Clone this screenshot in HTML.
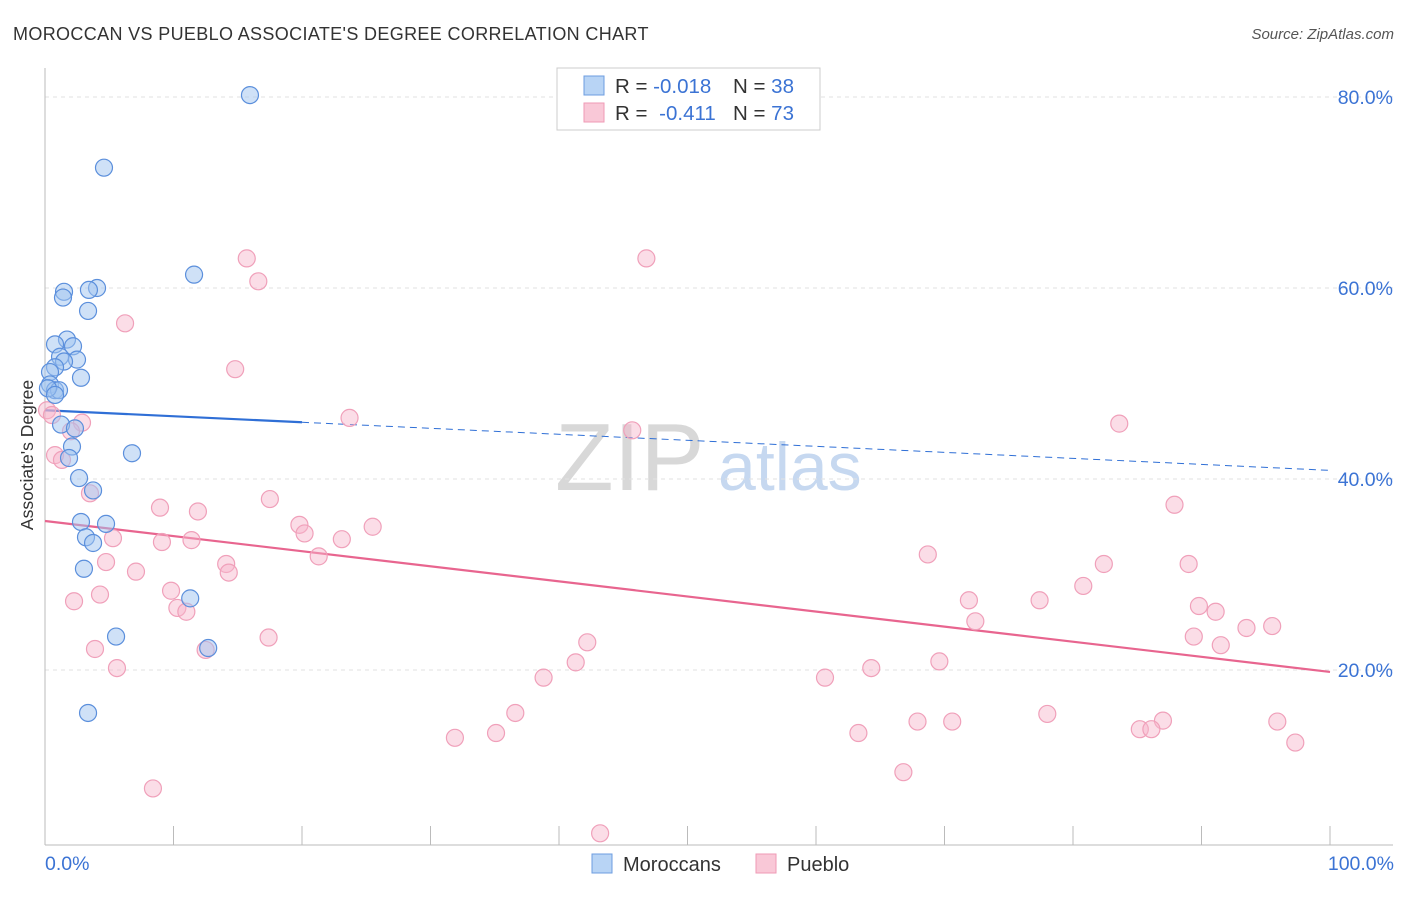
<!DOCTYPE html>
<html><head><meta charset="utf-8"><style>
body{margin:0;background:#fff;font-family:"Liberation Sans",sans-serif}
svg text{font-family:"Liberation Sans",sans-serif}
</style></head><body>
<svg id="c" width="1406" height="892" xmlns="http://www.w3.org/2000/svg">
<text x="13" y="40" font-size="18" fill="#333" letter-spacing="0.35">MOROCCAN VS PUEBLO ASSOCIATE'S DEGREE CORRELATION CHART</text>
<text x="1394" y="39" font-size="15" fill="#555" font-style="italic" text-anchor="end">Source: ZipAtlas.com</text>
<text x="555" y="490" font-size="96" fill="#d8d8d8" font-family="Liberation Serif">ZIP</text>
<text x="718" y="490" font-size="68" fill="#c6d8f0">atlas</text>
<text transform="translate(33,455) rotate(-90)" font-size="17.5" fill="#333" text-anchor="middle">Associate's Degree</text>
<g id="grid"></g><g id="axes"></g><g id="trend"></g><g id="pts"></g>
<g>
<rect x="557" y="68" width="263" height="62" fill="#fff" stroke="#ccc"/>
<rect x="584" y="76" width="20" height="19" fill="#b8d4f5" stroke="#6d9de0"/>
<rect x="584" y="103" width="20" height="19" fill="#f9c8d7" stroke="#ef9ab5"/>
<text x="615" y="93" font-size="20.5" fill="#333">R = <tspan fill="#3b73d4">-0.018</tspan></text>
<text x="733" y="93" font-size="20.5" fill="#333">N = <tspan fill="#3b73d4">38</tspan></text>
<text x="615" y="120" font-size="20.5" fill="#333">R = <tspan fill="#3b73d4" dx="6">-0.411</tspan></text>
<text x="733" y="120" font-size="20.5" fill="#333">N = <tspan fill="#3b73d4">73</tspan></text>
</g>
<g>
<rect x="592" y="854" width="20" height="19" fill="#b8d4f5" stroke="#6d9de0"/>
<text x="623" y="871" font-size="20" fill="#333">Moroccans</text>
<rect x="756" y="854" width="20" height="19" fill="#f9c8d7" stroke="#ef9ab5"/>
<text x="787" y="871" font-size="20" fill="#333">Pueblo</text>
</g>
<text x="45" y="870" font-size="19.5" fill="#3b73d4">0.0%</text>
<text x="1394" y="870" font-size="19.5" fill="#3b73d4" text-anchor="end">100.0%</text>
</svg>
<script>
const yTicks=[20,40,60,80];
const yTickLabels=["20.0%","40.0%","60.0%","80.0%"];
const moroccanX=[15.95,4.59,11.6,1.48,1.40,4.05,3.42,3.35,1.71,0.78,2.18,1.17,2.49,1.48,0.78,0.39,2.80,0.39,0.78,1.09,0.23,0.78,1.25,2.33,2.10,6.77,1.87,2.65,3.74,2.80,4.75,3.19,3.74,3.03,11.3,5.53,12.7,3.35];
const moroccanY=[80.2,72.6,61.4,59.6,59.0,60.0,59.8,57.6,54.6,54.1,53.9,52.8,52.5,52.3,51.7,51.2,50.6,49.9,49.3,49.3,49.5,48.8,45.7,45.3,43.4,42.7,42.2,40.1,38.8,35.5,35.3,33.9,33.3,30.6,27.5,23.5,22.3,15.5];
const puebloX=[46.8,15.7,16.6,6.23,14.8,23.7,45.7,83.6,0.16,0.54,2.88,2.02,0.78,1.32,3.50,8.95,11.9,17.5,87.9,19.8,20.2,23.1,25.5,9.1,11.4,5.29,4.75,21.3,7.08,14.1,14.3,68.7,82.4,89.0,80.8,9.81,2.26,4.28,10.3,11.0,71.9,77.4,89.8,91.1,72.4,93.5,95.5,89.4,91.5,17.4,42.2,3.89,12.5,5.60,41.3,69.6,64.3,38.8,60.7,36.6,78.0,67.9,70.6,95.9,35.1,63.3,87.0,85.2,86.1,31.9,97.3,66.8,8.40,43.2];
const puebloY=[63.1,63.1,60.7,56.3,51.5,46.4,45.1,45.8,47.2,46.7,45.9,45.0,42.5,42.0,38.5,37.0,36.6,37.9,37.3,35.2,34.3,33.7,35.0,33.4,33.6,33.8,31.3,31.9,30.3,31.1,30.2,32.1,31.1,31.1,28.8,28.3,27.2,27.9,26.5,26.1,27.3,27.3,26.7,26.1,25.1,24.4,24.6,23.5,22.6,23.4,22.9,22.2,22.1,20.2,20.8,20.9,20.2,19.2,19.2,15.5,15.4,14.6,14.6,14.6,13.4,13.4,14.7,13.8,13.8,12.9,12.4,9.3,7.6,2.9];
const moroccanTrend=[47.2,40.9];
const puebloTrend=[35.6,19.8];
const NS="http://www.w3.org/2000/svg";
const X=v=>45+v*12.85, Y=v=>861-v*9.55;
function mk(t,a,p){const e=document.createElementNS(NS,t);for(const k in a)e.setAttribute(k,a[k]);document.getElementById(p).appendChild(e);return e;}
yTicks.forEach((t,i)=>{
 const l=mk('line',{x1:45,x2:1393,y1:Y(t),y2:Y(t),stroke:'#e2e2e2','stroke-dasharray':'4,4'},'grid');
 
 
 const tx=mk('text',{x:1393,y:Y(t)+7,'font-size':19.5,fill:'#3b73d4','text-anchor':'end'},'grid');
 tx.textContent=yTickLabels[i];
 
 
});
let a=mk('line',{x1:45,x2:45,y1:68,y2:845,stroke:'#bbb'},'axes');


a=mk('line',{x1:45,x2:1393,y1:845,y2:845,stroke:'#bbb'},'axes');


for(let i=0;i<=10;i++){const t=mk('line',{x1:X(i*10),x2:X(i*10),y1:826,y2:845,stroke:'#bbb'},'axes');
 
 }
let s=mk('line',{x1:X(0),y1:Y(moroccanTrend[0]),x2:X(20),y2:Y(moroccanTrend[0]+(moroccanTrend[1]-moroccanTrend[0])*0.2),stroke:'#2f6fd6','stroke-width':2.2},'trend');


s=mk('line',{x1:X(20),y1:Y(moroccanTrend[0]+(moroccanTrend[1]-moroccanTrend[0])*0.2),x2:X(100),y2:Y(moroccanTrend[1]),stroke:'#2f6fd6','stroke-width':1,'stroke-dasharray':'7,5'},'trend');


s=mk('line',{x1:X(0),y1:Y(puebloTrend[0]),x2:X(100),y2:Y(puebloTrend[1]),stroke:'#e8658f','stroke-width':2.2},'trend');


puebloX.forEach((v,i)=>{const c=mk('circle',{cx:X(v),cy:Y(puebloY[i]),r:8.5,fill:'rgba(246,180,201,0.45)',stroke:'#f0a0ba','stroke-width':1.2},'pts');
 
 });
moroccanX.forEach((v,i)=>{const c=mk('circle',{cx:X(v),cy:Y(moroccanY[i]),r:8.5,fill:'rgba(160,196,240,0.5)',stroke:'#5b8fdc','stroke-width':1.2},'pts');
 
 });
</script>
</body></html>
